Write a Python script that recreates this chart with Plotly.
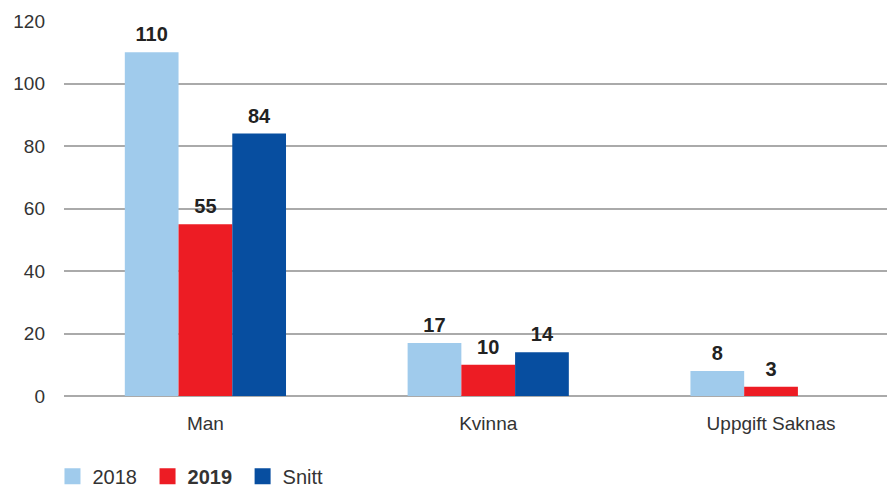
import plotly.graph_objects as go

categories = ["Man", "Kvinna", "Uppgift Saknas"]
series_names = ["2018\u00a0", "<b>2019</b>\u00a0", "Snitt"]
values_2018 = [110, 17, 8]
values_2019 = [55, 10, 3]
values_snitt = [84, 14, None]
colors = ["#A0CBEC", "#ED1C24", "#074EA0"]

FONT = "Liberation Sans, Arial, Helvetica, sans-serif"

fig = go.Figure()
for i, (name, vals, col) in enumerate(zip(series_names, [values_2018, values_2019, values_snitt], colors)):
    fig.add_trace(go.Bar(
        x=categories, y=vals, name=name, marker=dict(color=col, line=dict(width=0)),
        offsetgroup=str(i), showlegend=False, hoverinfo="skip",
    ))
    fig.add_trace(go.Scatter(
        x=categories, y=vals, mode="markers+text", offsetgroup=str(i),
        text=[f"<b>{v}</b>" if v is not None else "" for v in vals],
        textposition="top center", cliponaxis=False,
        marker=dict(size=8, opacity=0), showlegend=False, hoverinfo="skip",
        textfont=dict(family=FONT, size=20, color="#222222"),
    ))
    fig.add_trace(go.Scatter(
        x=[None], y=[None], mode="markers", name=name,
        marker=dict(symbol="square", size=18, color=col),
    ))

fig.update_layout(
    width=887, height=488,
    margin=dict(l=64, r=0, t=21, b=92, autoexpand=False),
    paper_bgcolor="white", plot_bgcolor="white",
    barmode="group", bargap=0.43, bargroupgap=0,
    scattermode="group", scattergap=0.43,
    font=dict(family=FONT, size=19, color="#333333"),
    legend=dict(orientation="h", x=-0.014, xanchor="left", y=-0.214, yanchor="middle",
                font=dict(size=20, color="#333333"), itemsizing="trace",
                itemwidth=30, traceorder="normal"),
    showlegend=True,
)
fig.update_xaxes(range=[-0.5, 2.41], showgrid=False, showline=False, zeroline=False, automargin=False,
                 ticks="", ticklabelstandoff=14, tickfont=dict(size=19, color="#333333"))
fig.update_yaxes(range=[0, 120], dtick=20, showgrid=True, gridcolor="#AAAAAA", gridwidth=1.5,
                 zeroline=True, zerolinecolor="#AAAAAA", zerolinewidth=1.5, showline=False, automargin=False,
                 ticks="", ticklabelstandoff=18, tickfont=dict(size=19, color="#333333"))

fig.write_html("out.html", config={"displayModeBar": False},
               post_script="document.body.style.margin='0';")
